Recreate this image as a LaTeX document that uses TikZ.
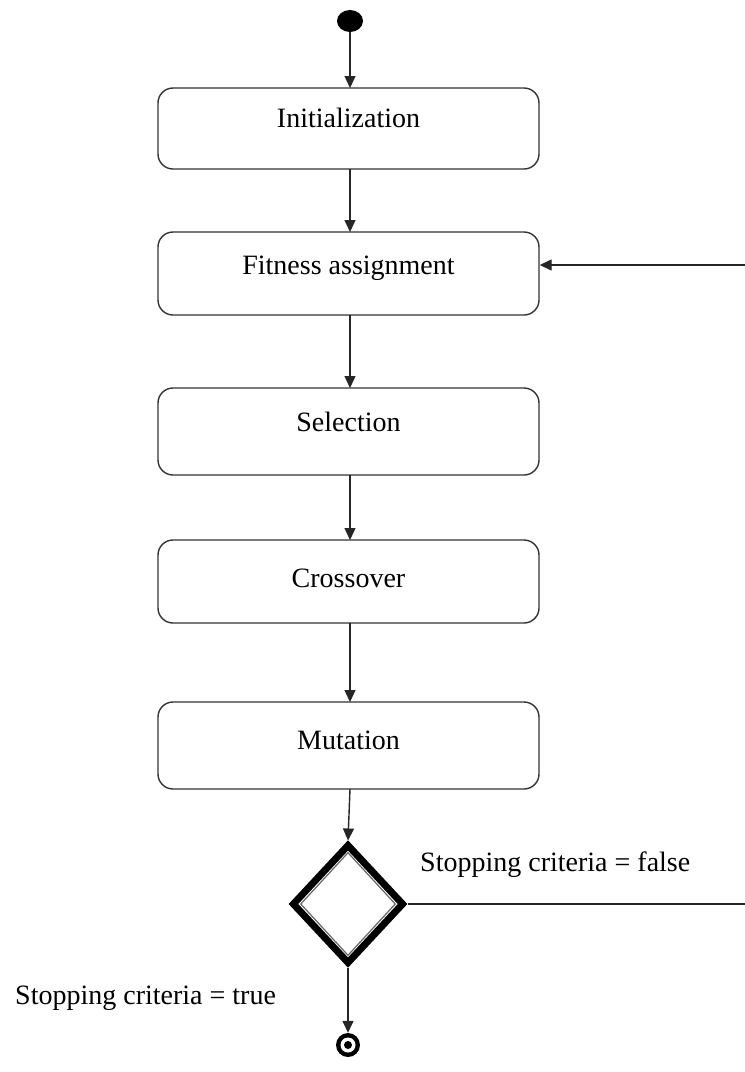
\documentclass[tikz,border=0pt]{standalone}
\usepackage{fontspec}
\setmainfont{Liberation Serif}
\usetikzlibrary{arrows.meta,shapes.geometric}
\begin{document}
\begin{tikzpicture}[x=1pt,y=-1pt,
  box/.style={draw=black!80,line width=1.4pt,rounded corners=15pt,minimum width=381pt,inner sep=0pt},
  lbl/.style={font=\fontsize{28}{32}\selectfont,anchor=base,inner sep=0pt},
  arr/.style={draw=black!85,line width=1.4pt,-{Triangle[length=12pt,width=11pt]}},
  ln/.style={draw=black!85,line width=1.4pt}]
\useasboundingbox (0,0) rectangle (745,1072);
% start
\node[ellipse,fill=black,minimum width=26pt,minimum height=22pt,inner sep=0pt] (start) at (350,21) {};
% boxes
\node[box,minimum height=81pt] (init) at (348.5,128.5) {};
\node[box,minimum height=83pt] (fit) at (348.5,273.5) {};
\node[box,minimum height=87pt] (sel) at (348.5,431.5) {};
\node[box,minimum height=83pt] (cro) at (348.5,581.5) {};
\node[box,minimum height=87pt] (mut) at (348.5,745.5) {};
% texts
\node[lbl] (tinit) at (348.5,127) {Initialization};
\node[lbl] (tfit) at (348.5,274) {Fitness assignment};
\node[lbl] (tsel) at (348.5,431) {Selection};
\node[lbl] (tcro) at (348.5,587) {Crossover};
\node[lbl] (tmut) at (348.5,749) {Mutation};
% decision
\node[diamond,draw=black,line width=7pt,minimum width=112pt,minimum height=120pt,inner sep=0pt] (dia) at (348,904) {};
\node[diamond,draw=black!60,line width=1.2pt,minimum width=95pt,minimum height=103pt,inner sep=0pt] (diain) at (348,904) {};
% end
\node[circle,fill=black,minimum size=24pt,inner sep=0pt] (endo) at (348,1045) {};
\node[circle,fill=white,minimum size=15pt,inner sep=0pt] (endm) at (348,1045) {};
\node[circle,fill=black,minimum size=8pt,inner sep=0pt] (endi) at (348,1045) {};
% labels
\node[lbl,anchor=base west] (lfalse) at (420,871) {Stopping criteria = false};
\node[lbl,anchor=base west] (ltrue) at (15,1004) {Stopping criteria = true};
% connectors
\draw[arr] (start.south) -- (350,88);
\draw[arr] (350,169) -- (350,232);
\draw[arr] (350,315) -- (350,388);
\draw[arr] (350,475) -- (350,540);
\draw[arr] (350,623) -- (350,702);
\draw[arr] (350,789) -- (dia.north);
\draw[arr] (dia.south) -- (endo.north);
\coordinate (c1) at (748,904);
\coordinate (c2) at (748,265);
\draw[arr] (dia.east) -- (c1) -- (c2) -- (fit.east |- c2);
\end{tikzpicture}
\end{document}
